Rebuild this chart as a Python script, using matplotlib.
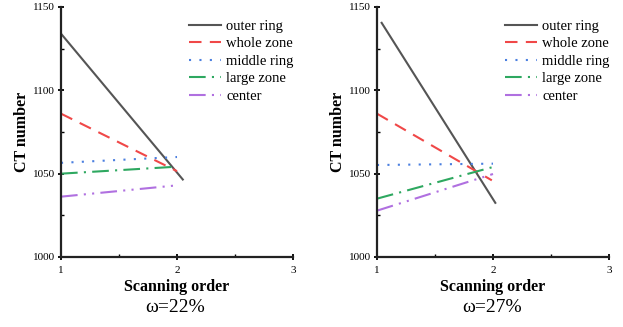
import matplotlib
matplotlib.use("Agg")
import matplotlib.pyplot as plt
from matplotlib.ticker import MultipleLocator

plt.rcParams['font.family'] = ['Liberation Serif', 'DejaVu Serif']

series_names = ["outer ring", "whole zone", "middle ring", "large zone", "center"]
colors = ["#555555", "#f04848", "#4a7fe0", "#2ea860", "#b070e0"]
styles = ["-", (0, (6, 4)), (0, (1, 4)), (0, (8, 3, 1, 3)), (0, (8, 3, 1, 3, 1, 3))]

# omega = 22%
x22 = [[1, 2.05], [1, 2], [1, 2], [1, 2], [1, 2]]
y22 = [[1134, 1046.5], [1086, 1051.5], [1056.5, 1060], [1050, 1054.2], [1036.2, 1043]]
# omega = 27%
x27 = [[1.04, 2.02], [1, 1.99], [1, 2], [1, 2], [1, 2]]
y27 = [[1140.5, 1032.5], [1086, 1046], [1055.2, 1056], [1035, 1054], [1027.8, 1049.8]]

titles = ["ω=22%", "ω=27%"]
xticks = [1, 2, 3]
yticks = [1000, 1050, 1100, 1150]

W, H = 623, 327
fig = plt.figure(figsize=(W / 100, H / 100), dpi=100)

panels = [(61, x22, y22, 175), (377, x27, y27, 492)]
for (lpx, xs, ys, tx), title in zip(panels, titles):
    ax = fig.add_axes([lpx / W, (H - 257) / H, 232 / W, 250 / H])
    for name, c, ls, xx, yy in zip(series_names, colors, styles, xs, ys):
        ax.plot(xx, yy, color=c, linestyle=ls, lw=1.5, label=name)
    ax.set_xlim(1, 3)
    ax.set_ylim(1000, 1150)
    ax.set_xticks(xticks)
    ax.set_yticks(yticks)
    ax.xaxis.set_minor_locator(MultipleLocator(0.5))
    ax.yaxis.set_minor_locator(MultipleLocator(25))
    ax.tick_params(which='major', direction='inout', length=5, width=1.3, labelsize=8, pad=2)
    ax.tick_params(axis='x', which='major', pad=4)
    ax.tick_params(which='minor', direction='in', length=2.5, width=1.0)
    for s in ['top', 'right']:
        ax.spines[s].set_visible(False)
    for s in ['left', 'bottom']:
        ax.spines[s].set_linewidth(1.6)
        ax.spines[s].set_color('#222222')
    ax.set_xlabel("Scanning order", fontsize=11.5, fontweight='bold', labelpad=3)
    ax.set_ylabel("CT number", fontsize=11.5, fontweight='bold', labelpad=2)
    leg = ax.legend(loc='upper right', bbox_to_anchor=(1.04, 0.985), frameon=False, fontsize=10.5,
                    handlelength=2.2, handletextpad=0.35, labelspacing=0.3, borderaxespad=0.2)
    fig.text(tx / W, 1 - 307 / H, title, fontsize=14, ha='center', va='center')

fig.savefig("out.png", dpi=100)
